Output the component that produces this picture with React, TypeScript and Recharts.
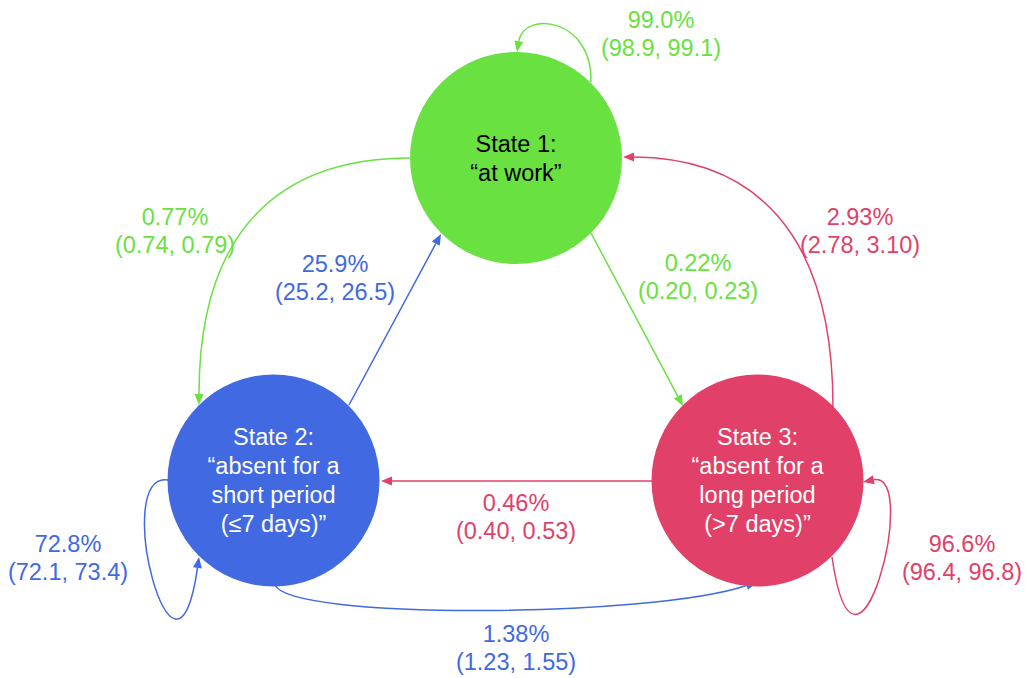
import React from 'react';
import { ScatterChart, Scatter, XAxis, YAxis } from 'recharts';

// ---- data ----
const stateTitles = ['State 1:', 'State 2:', 'State 3:'];
const stateDescriptions = [
  ['“at work”'],
  ['“absent for a', 'short period', '(≤7 days)”'],
  ['“absent for a', 'long period', '(>7 days)”'],
];
const stateX = [516, 273.5, 757.5];
const stateY = [158, 480.5, 480.5];

// transitions: from -> to
const transitionFrom = [1, 1, 1, 2, 2, 2, 3, 3, 3];
const transitionTo = [1, 2, 3, 1, 2, 3, 1, 2, 3];
const transitionPercent = ['99.0%', '0.77%', '0.22%', '25.9%', '72.8%', '1.38%', '2.93%', '0.46%', '96.6%'];
const transitionCI = ['(98.9, 99.1)', '(0.74, 0.79)', '(0.20, 0.23)', '(25.2, 26.5)', '(72.1, 73.4)', '(1.23, 1.55)', '(2.78, 3.10)', '(0.40, 0.53)', '(96.4, 96.8)'];
const labelX = [661, 175, 698, 335, 68, 516, 860, 516, 962];
const labelY = [34, 230.5, 276.5, 277.5, 558, 648, 231, 517, 558];

// arrow paths (start, control points..., tip) in diagram coordinates
const arrowPaths: number[][][] = [
  [[591, 82], [593, 18], [524, 10], [517, 52]],
  [[410, 158], [280, 158], [199, 230], [199, 405]],
  [[591, 233], [683, 406]],
  [[349, 405], [441, 234]],
  [[168, 480], [110, 470], [175, 725], [199, 557]],
  [[275, 585], [290, 620], [650, 618], [757, 582]],
  [[833, 407], [833, 230], [752, 158], [623, 157]],
  [[652, 481], [381, 481]],
  [[832, 557], [856, 725], [921, 470], [863, 482]],
];

// ---- styles ----
const COLORS = ['#69E141', '#4169E1', '#E14169'];
const NODE_TEXT = ['#000000', '#FFFFFF', '#FFFFFF'];
const NODE_R = 106;
const FONT = '"Liberation Sans", Arial, Helvetica, sans-serif';
const FONT_SIZE = 23.5;

const nodeData = stateTitles.map((t, i) => ({
  x: stateX[i],
  y: stateY[i],
  lines: [t, ...stateDescriptions[i]],
  idx: i,
}));

const labelData = transitionPercent.map((p, i) => ({
  x: labelX[i],
  y: labelY[i],
  lines: [p, transitionCI[i]],
  color: COLORS[transitionFrom[i] - 1],
}));

const NodeShape = (props: any) => {
  const { cx, cy, payload } = props;
  const lines: string[] = payload.lines;
  const lh = 29;
  const start = cy - ((lines.length - 1) * lh) / 2;
  return (
    <g>
      <circle cx={cx} cy={cy} r={NODE_R} fill={COLORS[payload.idx]} />
      {lines.map((l, k) => (
        <text
          key={k}
          x={cx}
          y={start + k * lh}
          dy="0.35em"
          textAnchor="middle"
          fontFamily={FONT}
          fontSize={FONT_SIZE}
          fill={NODE_TEXT[payload.idx]}
        >
          {l}
        </text>
      ))}
    </g>
  );
};

const LabelShape = (props: any) => {
  const { cx, cy, payload } = props;
  const lines: string[] = payload.lines;
  const lh = 28;
  const start = cy - ((lines.length - 1) * lh) / 2;
  return (
    <g>
      {lines.map((l, k) => (
        <text
          key={k}
          x={cx}
          y={start + k * lh}
          dy="0.35em"
          textAnchor="middle"
          fontFamily={FONT}
          fontSize={FONT_SIZE}
          fill={payload.color}
        >
          {l}
        </text>
      ))}
    </g>
  );
};

const EmptyShape = () => <g />;

const makeArrowLine = (color: string) => (props: any) => {
  const pts: { x: number; y: number }[] = props.points || [];
  if (pts.length < 2) return <g />;
  const tip = pts[pts.length - 1];
  const prev = pts[pts.length - 2];
  const dx = tip.x - prev.x;
  const dy = tip.y - prev.y;
  const len = Math.sqrt(dx * dx + dy * dy) || 1;
  const ux = dx / len;
  const uy = dy / len;
  const AL = 11;
  const AW = 4.5;
  const bx = tip.x - ux * AL;
  const by = tip.y - uy * AL;
  let d = '';
  const p0 = pts[0];
  if (pts.length === 2) {
    d = `M${p0.x},${p0.y} L${bx},${by}`;
  } else if (pts.length === 3) {
    d = `M${p0.x},${p0.y} Q${pts[1].x},${pts[1].y} ${bx},${by}`;
  } else {
    d = `M${p0.x},${p0.y} C${pts[1].x},${pts[1].y} ${pts[2].x},${pts[2].y} ${bx},${by}`;
  }
  const head = `M${tip.x},${tip.y} L${bx - uy * AW},${by + ux * AW} L${bx + uy * AW},${by - ux * AW} Z`;
  return (
    <g>
      <path d={d} fill="none" stroke={color} strokeWidth={1.5} />
      <path d={head} fill={color} stroke="none" />
    </g>
  );
};

export default function App() {
  return (
    <div style={{ position: 'absolute', left: 0, top: 0, background: '#ffffff' }}>
      <ScatterChart width={1025} height={678} margin={{ top: 0, right: 0, bottom: 0, left: 0 }}>
        <XAxis type="number" dataKey="x" domain={[0, 1025]} hide allowDataOverflow />
        <YAxis type="number" dataKey="y" domain={[0, 678]} reversed hide allowDataOverflow />
        {arrowPaths.map((path, i) => (
          <Scatter
            key={`arrow-${i}`}
            data={path.map(([x, y]) => ({ x, y }))}
            shape={EmptyShape}
            line={makeArrowLine(COLORS[transitionFrom[i] - 1])}
            lineType="joint"
            isAnimationActive={false}
          />
        ))}
        <Scatter data={nodeData} shape={NodeShape} isAnimationActive={false} />
        <Scatter data={labelData} shape={LabelShape} isAnimationActive={false} />
      </ScatterChart>
    </div>
  );
}
